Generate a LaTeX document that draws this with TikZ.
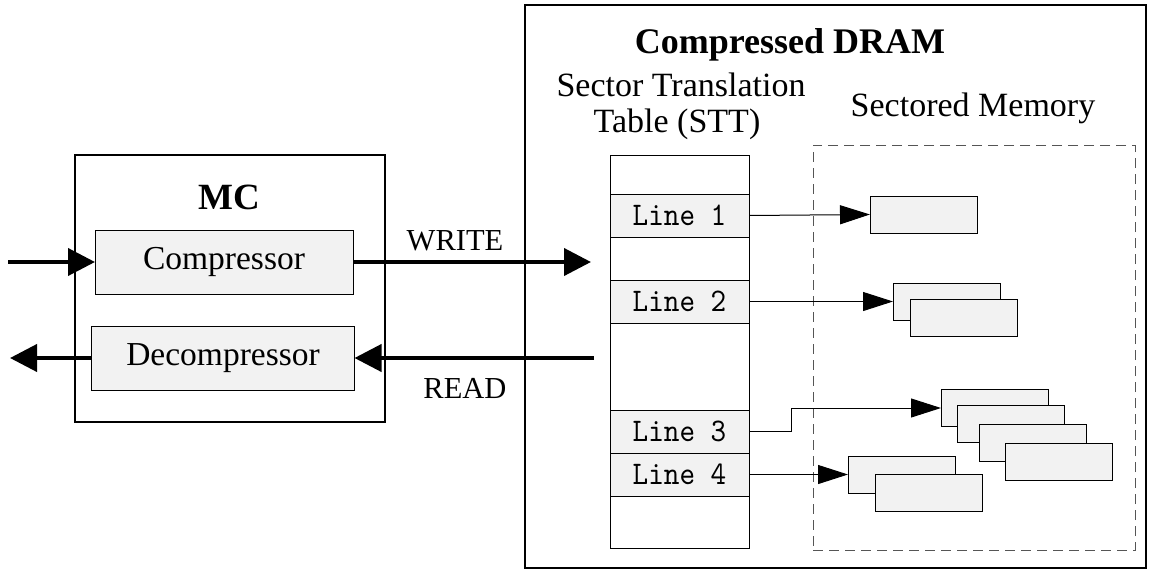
\documentclass[tikz,border=0pt]{standalone}
\usepackage{fontspec}
\setmainfont{Liberation Serif}
\newfontfamily\linefont[FakeStretch=0.9]{lmmono10-regular.otf}
\usetikzlibrary{arrows.meta}
\definecolor{cellgray}{HTML}{F2F2F2}
\definecolor{edgegray}{HTML}{555555}

\begin{document}
\begin{tikzpicture}[x=1pt,y=-1pt,
  every node/.style={inner sep=0pt, outer sep=0pt},
  frame/.style={draw, line width=2pt},
  unitbox/.style={draw, fill=cellgray, line width=1pt, minimum height=64pt, font=\fontsize{33.5}{36}\selectfont},
  sttrow/.style={draw, line width=1pt, minimum width=139pt, anchor=north west},
  linerow/.style={sttrow, fill=cellgray, font=\linefont\fontsize{33}{35}\selectfont},
  sector/.style={draw, fill=cellgray, line width=1pt, minimum width=107pt, minimum height=37pt, anchor=west},
  bus/.style={line width=4pt, -{Triangle[length=27pt,width=27pt]}},
  ptr/.style={line width=1pt, -{Triangle[length=30pt,width=19pt]}},
  lbl/.style={font=\fontsize{30.5}{32}\selectfont, anchor=base},
  title/.style={font=\bfseries\fontsize{36}{40}\selectfont, anchor=base},
  head/.style={font=\fontsize{34}{37}\selectfont, anchor=base}
]
\useasboundingbox (0,0) rectangle (1154,573);

% ---------- compressed DRAM ----------
\node[frame, minimum width=621pt, minimum height=563pt, anchor=north west] (dram) at (525,5) {};
\node[title] (dramtitle) at (790,53) {Compressed DRAM};
\node[head] (stthead1) at (681,96) {Sector Translation};
\node[head] (stthead2) at (677,132) {Table (STT)};
\node[head] (memhead) at (973,116) {Sectored Memory};

% sector translation table
\node[sttrow, minimum height=39pt] (r0) at (610,155) {};
\node[linerow, minimum height=43pt] (l1) at (610,194) {Line 1};
\node[sttrow, minimum height=43pt] (r1) at (610,237) {};
\node[linerow, minimum height=43pt] (l2) at (610,280) {Line 2};
\node[sttrow, minimum height=87pt] (r2) at (610,323) {};
\node[linerow, minimum height=43pt] (l3) at (610,410) {Line 3};
\node[linerow, minimum height=43pt] (l4) at (610,453) {Line 4};
\node[sttrow, minimum height=52pt] (r3) at (610,496) {};

% sectored memory region
\node[draw=edgegray, line width=1pt, dash pattern=on 10pt off 6pt,
      minimum width=322pt, minimum height=405pt, anchor=north west] (mem) at (813,145) {};

% sectors
\node[sector] (sa) at (870,214.5) {};
\node[sector] (sb1) at (893,301.5) {};
\node[sector] (sb2) at (910,317.5) {};
\node[sector] (sc1) at (941,408) {};
\node[sector] (sc2) at (957,424) {};
\node[sector] (sc3) at (979,443) {};
\node[sector] (sc4) at (1005,462) {};
\node[sector] (sd1) at (848,474.5) {};
\node[sector] (sd2) at (875,493) {};

% pointers
\coordinate (k3) at (791,0);
\draw[ptr] (l1.east) -- (sa.west);
\draw[ptr] (l2.east) -- (sb1.west);
\draw[ptr] (l3.east) -- (l3.east -| k3) |- (sc1.west);
\draw[ptr] (l4.east) -- (sd1.west);

% ---------- memory controller ----------
\node[frame, minimum width=310pt, minimum height=267pt] (mc) at (230,288.5) {};
\node[title, font=\bfseries\fontsize{37}{40}\selectfont] (mctitle) at (229,209) {MC};
\node[unitbox, minimum width=258pt] (comp) at (224,262) {Compressor};
\node[unitbox, minimum width=263pt] (decomp) at (223,358) {Decompressor};

\coordinate (inA) at (8,262);
\coordinate (outB) at (10,358);
\coordinate (wend) at (591,262);
\coordinate (rstart) at (594,358);
\draw[bus] (inA) -- (comp.west);
\draw[bus] (decomp.west) -- (outB);
\draw[bus] (comp.east) -- (wend);
\draw[bus] (rstart) -- (decomp.east);
\node[lbl] (wlbl) at (455,250) {WRITE};
\node[lbl] (rlbl) at (465,398) {READ};
\end{tikzpicture}
\end{document}
